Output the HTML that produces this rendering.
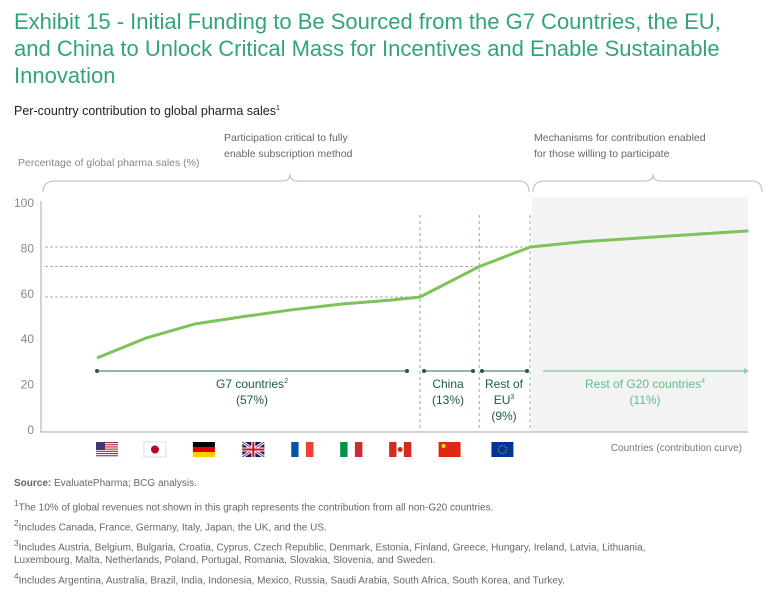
<!DOCTYPE html>
<html><head><meta charset="utf-8">
<style>
body{margin:0;width:768px;height:594px;background:#fff;font-family:"Liberation Sans",sans-serif;overflow:hidden;position:relative}
.t{position:absolute;white-space:nowrap}
#title{left:14px;top:8px;font-size:22px;line-height:27px;color:#32a47c}
.fn{position:absolute;left:14px;font-size:10px;color:#666;line-height:13px}
</style></head><body>
<div id="title" class="t">Exhibit 15 - Initial Funding to Be Sourced from the G7 Countries, the EU,<br>and China to Unlock Critical Mass for Incentives and Enable Sustainable<br>Innovation</div>
<div class="t" style="left:14px;top:104px;font-size:12.5px;color:#222">Per-country contribution to global pharma sales<sup style="font-size:7px">1</sup></div>
<div class="t" style="left:224px;top:130px;font-size:10.5px;color:#666;line-height:16px">Participation critical to fully<br>enable subscription method</div>
<div class="t" style="left:534px;top:130px;font-size:10.5px;color:#666;line-height:16px">Mechanisms for contribution enabled<br>for those willing to participate</div>
<div class="t" style="left:18px;top:157px;font-size:10.5px;color:#888">Percentage of global pharma sales (%)</div>
<svg id="chart" width="768" height="470" style="position:absolute;left:0;top:0"></svg>
<div class="fn" style="top:477px"><b>Source:</b> EvaluatePharma; BCG analysis.</div>
<div class="fn" style="top:497px"><sup>1</sup>The 10% of global revenues not shown in this graph represents the contribution from all non-G20 countries.</div>
<div class="fn" style="top:517px"><sup>2</sup>Includes Canada, France, Germany, Italy, Japan, the UK, and the US.</div>
<div class="fn" style="top:537px"><sup>3</sup>Includes Austria, Belgium, Bulgaria, Croatia, Cyprus, Czech Republic, Denmark, Estonia, Finland, Greece, Hungary, Ireland, Latvia, Lithuania,<br>Luxembourg, Malta, Netherlands, Poland, Portugal, Romania, Slovakia, Slovenia, and Sweden.</div>
<div class="fn" style="top:570px"><sup>4</sup>Includes Argentina, Australia, Brazil, India, Indonesia, Mexico, Russia, Saudi Arabia, South Africa, South Korea, and Turkey.</div>
<script>
const yTicks=[0,20,40,60,80,100];
const pointIdx=[0,1,2,3,4,5,6,6.6,7.81,8.85,9.94,13.31];
const cumValues=[31.7,40.5,46.7,50,53,55.5,57.2,58.6,72,80.6,83,87.7];
const refValues=[58.6,72,80.6];
const flags=['us','jp','de','uk','fr','it','ca','cn','eu'];
const flagIdx=[0,0.98,1.98,2.99,3.99,4.99,5.99,7.0,8.08];
const x0=97,dx=(420-97)/6.6;
const X=i=>x0+i*dx;
const Y=v=>430-v*2.27;
const s=document.getElementById('chart');
const NS='http://www.w3.org/2000/svg';
function el(tag,a,txt){const e=document.createElementNS(NS,tag);for(const k in a)e.setAttribute(k,a[k]);if(txt!=null)e.textContent=txt;s.appendChild(e);return e;}
let e;
e=el('rect',{x:X(8.85)+2,y:197,width:748-X(8.85)-2,height:235,fill:'#f3f3f3'});

e=el('path',{d:'M43 192 Q43 181 55 181 L282 181 Q290 181 290 174 Q290 181 298 181 L519 181 Q529 181 529 192',fill:'none',stroke:'#bbb','stroke-width':1});

e=el('path',{d:'M533 192 Q533 181 545 181 L645 181 Q653 181 653 174 Q653 181 661 181 L752 181 Q762 181 762 192',fill:'none',stroke:'#bbb','stroke-width':1});

yTicks.forEach(v=>{e=el('text',{x:34,y:Y(v)+4,'text-anchor':'end','font-size':12,fill:'#888'},v);
});
e=el('path',{d:`M41 201 L41 ${Y(0)+2} L748 ${Y(0)+2}`,fill:'none',stroke:'#aaa','stroke-width':1});

refValues.forEach((v,i)=>{const k=[7,8,9][i];e=el('line',{x1:45,x2:X(pointIdx[k]),y1:Y(v),y2:Y(v),stroke:'#aaa','stroke-dasharray':'3,2','stroke-width':1});

e=el('line',{x1:X(pointIdx[k]),x2:X(pointIdx[k]),y1:215,y2:Y(0),stroke:'#7fb8a4','stroke-dasharray':'3,3','stroke-width':1});
});
e=el('polyline',{points:cumValues.map((v,i)=>X(pointIdx[i])+','+Y(v)).join(' '),fill:'none',stroke:'#7cc35a','stroke-width':3});

const segs=[[97,407],[424,473],[482,527]];
segs.forEach(g=>{e=el('line',{x1:g[0],x2:g[1],y1:371,y2:371,stroke:'#6a9e88','stroke-width':1.5});

[g[0],g[1]].forEach(x=>{e=el('circle',{cx:x,cy:371,r:2,fill:'#1f5a43'});});});
function lab(x,lines,col,name){lines.forEach((l,i)=>{e=el('text',{x:x,y:388+i*16,'text-anchor':'middle','font-size':12,fill:col});e.innerHTML=l;
});}
lab(252,['G7 countries<tspan font-size="7" dy="-5">2</tspan>','(57%)'],'#1f5a43','g7-label');
lab(448,['China','(13%)'],'#1f5a43','china-label');
lab(504,['Rest of','EU<tspan font-size="7" dy="-5">3</tspan>','(9%)'],'#1f5a43','eu-label');
e=el('line',{x1:543,x2:744,y1:371,y2:371,stroke:'#8fd1a8','stroke-width':1.5});
e=el('path',{d:'M744 368 L749 371 L744 374 Z',fill:'#8fd1a8'});
lab(645,['Rest of G20 countries<tspan font-size="7" dy="-5">4</tspan>','(11%)'],'#5cbf8a','g20-label');
e=el('text',{x:742,y:451,'text-anchor':'end','font-size':10,fill:'#777'},'Countries (contribution curve)');

const fc={us:['#b22234','#fff'],jp:['#fff','#bc002d'],de:['#000','#dd0000','#ffce00'],uk:['#012169','#c8102e'],fr:['#0055a4','#fff','#ef4135'],it:['#009246','#fff','#ce2b37'],ca:['#d52b1e','#fff','#d52b1e'],cn:['#de2910'],eu:['#003399']};
flags.forEach((f,i)=>{const cx=X(flagIdx[i])+10,x=cx-11,y=442,w=22,h=15;const g=document.createElementNS(NS,'g');s.appendChild(g);

const add=(t,a)=>{const r=document.createElementNS(NS,t);for(const k in a)r.setAttribute(k,a[k]);g.appendChild(r);};
const c=fc[f];
if(f=='us'){add('rect',{x,y,width:w,height:h,fill:'#fff'});for(let k=0;k<7;k++)add('rect',{x,y:y+k*2.2,width:w,height:1.1,fill:c[0]});add('rect',{x,y,width:9,height:8,fill:'#3c3b6e'});}
else if(f=='jp'){add('rect',{x,y,width:w,height:h,fill:'#fff',stroke:'#ddd'});add('circle',{cx,cy:y+7.5,r:4,fill:c[1]});}
else if(f=='de'){c.forEach((k,j)=>add('rect',{x,y:y+j*5,width:w,height:5,fill:k}));}
else if(f=='uk'){add('rect',{x,y,width:w,height:h,fill:c[0]});add('path',{d:`M${x} ${y}L${x+w} ${y+h}M${x+w} ${y}L${x} ${y+h}`,stroke:'#fff','stroke-width':3});add('path',{d:`M${x} ${y}L${x+w} ${y+h}M${x+w} ${y}L${x} ${y+h}`,stroke:c[1],'stroke-width':1});add('path',{d:`M${cx} ${y}V${y+h}M${x} ${y+7.5}H${x+w}`,stroke:'#fff','stroke-width':4});add('path',{d:`M${cx} ${y}V${y+h}M${x} ${y+7.5}H${x+w}`,stroke:c[1],'stroke-width':2});}
else if(c.length==3){c.forEach((k,j)=>add('rect',{x:x+j*w/3,y,width:w/3+0.2,height:h,fill:k}));if(f=='ca')add('circle',{cx,cy:y+7.5,r:2.5,fill:'#d52b1e'});}
else{add('rect',{x,y,width:w,height:h,fill:c[0]});if(f=='cn')add('circle',{cx:x+5,cy:y+4,r:2,fill:'#ffde00'});else add('circle',{cx,cy:y+7.5,r:4,fill:'none',stroke:'#ffcc00','stroke-width':1,'stroke-dasharray':'1,1.5'});}
});
</script>
</body></html>
